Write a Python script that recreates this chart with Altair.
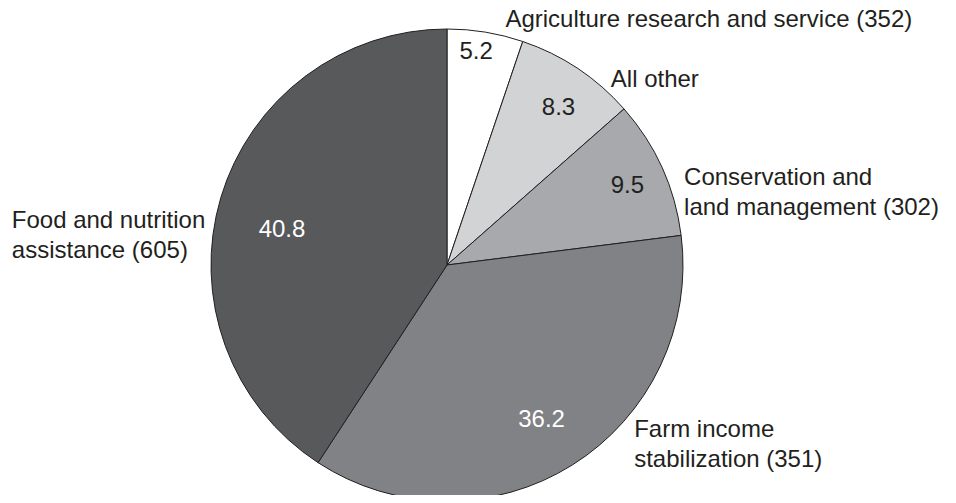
import altair as alt
import pandas as pd

# ---- data ----
keys = ["agri", "other", "cons", "farm", "food"]
categories = [
    "Agriculture research and service (352)",
    "All other",
    "Conservation and\nland management (302)",
    "Farm income\nstabilization (351)",
    "Food and nutrition\nassistance (605)",
]
shares = [5.2, 8.3, 9.5, 36.2, 40.8]

# ---- styles / layout ----
fills = ["#ffffff", "#d1d3d4", "#a7a9ac", "#808285", "#58595b"]
value_colors = {"agri": "#231f20", "other": "#231f20", "cons": "#231f20",
                "farm": "#ffffff", "food": "#ffffff"}
# (radius, dx, dy) for value labels inside slices
value_pos = {"agri": (216, -6, 0), "other": (194, 4, 4),
             "cons": (198, 0, 2), "farm": (184, -3, -1), "food": (169, -3, 13)}
# (radius, dx, dy) for category labels outside the pie (left aligned)
label_pos = {"agri": (236, 20, -12), "other": (236, 33, 11),
             "cons": (236, 22, 10), "farm": (236, 62, -35), "food": (236, -209, 23)}

CX, CY, R = 439, 257, 236
FONT = "Liberation Sans"

df = pd.DataFrame({"key": keys, "category": categories, "share": shares,
                   "idx": list(range(len(keys)))})

base = alt.Chart(df).encode(
    theta=alt.Theta("share:Q", stack=True),
    order=alt.Order("idx:Q"),
    x=alt.value(CX),
    y=alt.value(CY),
)

pie = base.mark_arc(outerRadius=R, stroke="#231f20", strokeWidth=1).encode(
    color=alt.Color("key:N", scale=alt.Scale(domain=keys, range=fills), legend=None)
)

layers = [pie]
for k in keys:
    r, dx, dy = value_pos[k]
    layers.append(
        base.mark_text(radius=r, dx=dx, dy=dy, fontSize=24, font=FONT,
                       align="center", baseline="middle", color=value_colors[k])
        .encode(text=alt.condition(f"datum.key === '{k}'",
                                   alt.Text("share:Q", format=".1f"),
                                   alt.value("")))
    )
    r, dx, dy = label_pos[k]
    layers.append(
        base.mark_text(radius=r, dx=dx, dy=dy, fontSize=24, font=FONT,
                       align="left", baseline="middle", color="#231f20",
                       lineBreak="\n", lineHeight=30)
        .encode(text=alt.condition(f"datum.key === '{k}'",
                                   alt.Text("category:N"),
                                   alt.value("")))
    )

chart = alt.layer(*layers).properties(
    width=940, height=487, padding=0, autosize="none"
).configure_view(stroke=None)

chart.save("out.html", embed_options={"renderer": "svg", "actions": False})
